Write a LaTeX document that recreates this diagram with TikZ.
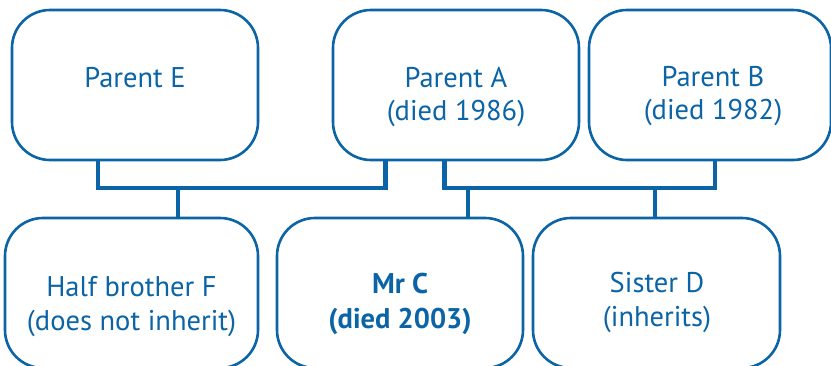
\documentclass[tikz,border=0pt]{standalone}
\usepackage{fontspec}
\setmainfont{PT Sans}
\usetikzlibrary{backgrounds}
\definecolor{famblue}{RGB}{11,100,166}
\begin{document}
\begin{tikzpicture}[x=1pt,y=-1pt,
  person/.style={draw=famblue,line width=2.6pt,rounded corners=38pt,fill=white,
    minimum width=246pt,minimum height=150pt,inner sep=0pt},
  txt/.style={text=famblue,anchor=base,inner sep=0pt,font=\fontsize{28.5}{34}\selectfont},
  conn/.style={draw=famblue,line width=4.6pt,line join=miter}]
\useasboundingbox (0,0) rectangle (831,365);
\clip (0,0) rectangle (831,365);
% boxes
\node[person] (pe) at (135,85) {};
\node[person] (pa) at (456,85) {};
\node[person,minimum width=242pt] (pb) at (710,85) {};
\node[person,minimum width=253pt] (hb) at (131.5,293) {};
\node[person] (mc) at (400,293) {};
\node[person,minimum width=247pt] (sd) at (656.5,293) {};
% junctions
\coordinate (j1) at (178,188);
\coordinate (j2) at (468,188);
\coordinate (j3) at (655,188);
% connectors
\begin{scope}[on background layer]
\draw[conn] ([xshift=-37pt]pe.south) |- (j1) -- ([xshift=-70.5pt]pa.south |- j1) -- ([xshift=-70.5pt]pa.south);
\draw[conn] ([xshift=-11.5pt]pa.south) |- (j2) -- ([xshift=5pt]pb.south |- j2) -- ([xshift=5pt]pb.south);
\draw[conn] (j1) -- ([xshift=46.5pt]hb.north);
\draw[conn] (j2) -- ([xshift=68pt]mc.north);
\draw[conn] (j3) -- ([xshift=-1.5pt]sd.north);
\end{scope}
% texts
\node[txt] (peA) at (135,87) {Parent E};
\node[txt] (paA) at (456,87) {Parent A};
\node[txt] (paB) at (456,120) {(died 1986)};
\node[txt] (pbA) at (713,86) {Parent B};
\node[txt] (pbB) at (713,119) {(died 1982)};
\node[txt] (hbA) at (131.5,296) {Half brother F};
\node[txt] (hbB) at (131.5,330) {(does not inherit)};
\node[txt,font=\fontsize{28.5}{34}\selectfont\bfseries] (mcA) at (400,293) {Mr C};
\node[txt,font=\fontsize{28.5}{34}\selectfont\bfseries] (mcB) at (400,328) {(died 2003)};
\node[txt] (sdA) at (657,292) {Sister D};
\node[txt] (sdB) at (657,326) {(inherits)};
\end{tikzpicture}
\end{document}
